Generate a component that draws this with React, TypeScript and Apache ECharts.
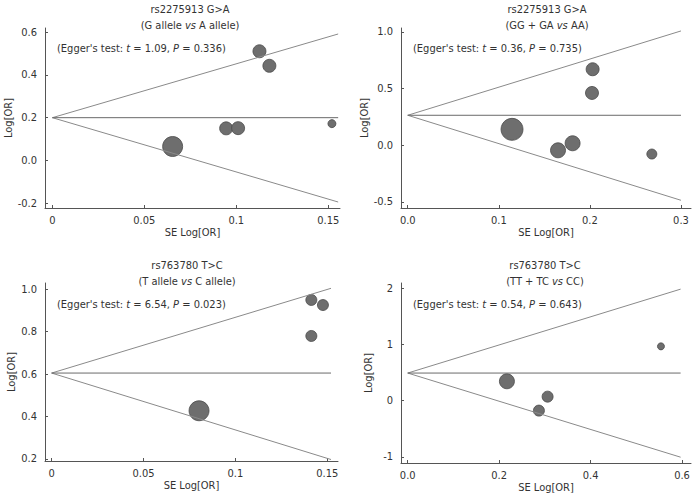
import React, { useEffect, useRef } from "react";
import * as echarts from "echarts";

// Panel titles
const titleLine1 = ["rs2275913 G>A", "rs2275913 G>A", "rs763780 T>C", "rs763780 T>C"];
const titleLine2Pre = ["(G allele ", "(GG + GA ", "(T allele ", "(TT + TC "];
const titleLine2Post = [" A allele)", " AA)", " C allele)", " CC)"];
const eggerT = ["1.09", "0.36", "6.54", "0.54"];
const eggerP = ["0.336", "0.735", "0.023", "0.643"];

// Study points: SE of log OR, log OR, marker diameter (weight)
const p1SE = [0.1126, 0.118, 0.0945, 0.101, 0.0654, 0.152];
const p1LogOR = [0.511, 0.443, 0.15, 0.151, 0.065, 0.172];
const p1Size = [13, 13, 13, 13, 20, 8];

const p2SE = [0.203, 0.2023, 0.1145, 0.165, 0.181, 0.268];
const p2LogOR = [0.671, 0.462, 0.141, -0.044, 0.018, -0.077];
const p2Size = [13, 13, 22, 15, 15, 10];

const p3SE = [0.1413, 0.1476, 0.1413, 0.0802];
const p3LogOR = [0.95, 0.926, 0.78, 0.427];
const p3Size = [11, 11, 11, 20];

const p4SE = [0.554, 0.217, 0.306, 0.287];
const p4LogOR = [0.964, 0.344, 0.071, -0.177];
const p4Size = [7, 15, 11, 11];

// Funnel: pooled log OR, SE at the funnel's end, upper and lower limits there
const pooled = [0.2, 0.265, 0.605, 0.49];
const funnelEndSE = [0.1554, 0.3, 0.152, 0.597];
const funnelUpper = [0.592, 1.009, 1.005, 1.98];
const funnelLower = [-0.195, -0.485, 0.197, -1.004];

// Axes
const xMin = [-0.004, -0.0074, -0.0036, -0.0147];
const xMax = [0.1564, 0.311, 0.1558, 0.6197];
const yMin = [-0.223, -0.553, 0.19, -1.107];
const yMax = [0.62, 1.035, 1.03, 2.089];
const xTickValues = [
  [0, 0.05, 0.1, 0.15],
  [0, 0.1, 0.2, 0.3],
  [0, 0.05, 0.1, 0.15],
  [0, 0.2, 0.4, 0.6],
];
const xTickLabels = [
  ["0", "0.05", "0.1", "0.15"],
  ["0.0", "0.1", "0.2", "0.3"],
  ["0", "0.05", "0.1", "0.15"],
  ["0.0", "0.2", "0.4", "0.6"],
];
const yTickValues = [
  [-0.2, 0, 0.2, 0.4, 0.6],
  [-0.5, 0, 0.5, 1.0],
  [0.2, 0.4, 0.6, 0.8, 1.0],
  [-1, 0, 1, 2],
];
const yTickLabels = [
  ["-0.2", "0.0", "0.2", "0.4", "0.6"],
  ["-0.5", "0.0", "0.5", "1.0"],
  ["0.2", "0.4", "0.6", "0.8", "1.0"],
  ["-1", "0", "1", "2"],
];

const FONT = "'DejaVu Sans Condensed', Tahoma, 'Liberation Sans', sans-serif";
const TEXT = "#333";

const grids = [
  { left: 45, top: 28, width: 295, height: 180 },
  { left: 401, top: 28, width: 290, height: 180 },
  { left: 45, top: 283, width: 293, height: 178 },
  { left: 401, top: 283, width: 290, height: 180 },
];
const titleCenter = [190, 547, 187, 545];
const titleY = [9, 265];
const eggerPos = [
  [57, 48],
  [413, 48],
  [57, 304],
  [413, 304],
];

export default function App() {
  const ref = useRef<HTMLDivElement>(null);
  useEffect(() => {
    if (!ref.current) return;
    const chart = echarts.init(ref.current, null, { renderer: "svg" });
    const ses = [p1SE, p2SE, p3SE, p4SE];
    const ors = [p1LogOR, p2LogOR, p3LogOR, p4LogOR];
    const sizes = [p1Size, p2Size, p3Size, p4Size];

    const xAxis: any[] = [];
    const yAxis: any[] = [];
    const series: any[] = [];
    const graphic: any[] = [];

    for (let i = 0; i < 4; i++) {
      const axisLine = { lineStyle: { color: "#555", width: 1 } };
      const axisTick = { inside: true, length: 3, lineStyle: { color: "#555" } };
      xAxis.push({
        gridIndex: i,
        type: "value",
        min: xMin[i],
        max: xMax[i],
        name: "SE Log[OR]",
        nameLocation: "middle",
        nameGap: 19,
        nameTextStyle: { fontFamily: FONT, fontSize: 11, color: TEXT },
        axisLine: { ...axisLine, onZero: false },
        axisTick: { ...axisTick, customValues: xTickValues[i] },
        axisLabel: {
          customValues: xTickValues[i],
          formatter: (v: number) => {
            const k = xTickValues[i].findIndex((t) => Math.abs(t - v) < 1e-9);
            return k >= 0 ? xTickLabels[i][k] : "";
          },
          fontFamily: FONT,
          fontSize: 11,
          color: TEXT,
          margin: 7,
        },
        splitLine: { show: false },
      });
      yAxis.push({
        gridIndex: i,
        type: "value",
        min: yMin[i],
        max: yMax[i],
        name: "Log[OR]",
        nameLocation: "middle",
        nameGap: 27,
        nameTextStyle: { fontFamily: FONT, fontSize: 11, color: TEXT },
        axisLine: { ...axisLine, onZero: false },
        axisTick: { ...axisTick, customValues: yTickValues[i] },
        axisLabel: {
          customValues: yTickValues[i],
          formatter: (v: number) => {
            const k = yTickValues[i].findIndex((t) => Math.abs(t - v) < 1e-9);
            return k >= 0 ? yTickLabels[i][k] : "";
          },
          fontFamily: FONT,
          fontSize: 11,
          color: TEXT,
          margin: 8,
        },
        splitLine: { show: false },
      });

      const lineStyle = { color: "#8a8a8a", width: 1 };
      series.push({
        type: "line",
        xAxisIndex: i,
        yAxisIndex: i,
        data: [
          [0, pooled[i]],
          [funnelEndSE[i], funnelUpper[i]],
        ],
        symbol: "none",
        lineStyle,
        silent: true,
      });
      series.push({
        type: "line",
        xAxisIndex: i,
        yAxisIndex: i,
        data: [
          [0, pooled[i]],
          [funnelEndSE[i], funnelLower[i]],
        ],
        symbol: "none",
        lineStyle,
        silent: true,
      });
      series.push({
        type: "line",
        xAxisIndex: i,
        yAxisIndex: i,
        data: [
          [0, pooled[i]],
          [funnelEndSE[i], pooled[i]],
        ],
        symbol: "none",
        lineStyle: { color: "#6a6a6a", width: 1 },
        silent: true,
      });
      series.push({
        type: "scatter",
        xAxisIndex: i,
        yAxisIndex: i,
        data: ses[i].map((s, k) => ({
          value: [s, ors[i][k]],
          symbolSize: sizes[i][k],
        })),
        itemStyle: { color: "#6e6e6e", borderColor: "#4a4a4a", borderWidth: 0.8, opacity: 1 },
      });

      const ty = titleY[i < 2 ? 0 : 1];
      graphic.push({
        type: "text",
        x: titleCenter[i],
        y: ty,
        style: {
          text: titleLine1[i],
          font: `11px ${FONT}`,
          fill: TEXT,
          align: "center",
          verticalAlign: "middle",
        },
      });
      graphic.push({
        type: "text",
        x: titleCenter[i],
        y: ty + 16,
        style: {
          text: `{n|${titleLine2Pre[i]}}{it|vs}{n|${titleLine2Post[i]}}`,
          align: "center",
          verticalAlign: "middle",
          rich: {
            n: { fontFamily: FONT, fontSize: 11, fill: TEXT, color: TEXT },
            it: { fontFamily: FONT, fontSize: 11, fontStyle: "italic", fill: TEXT, color: TEXT },
          },
        },
      });
      graphic.push({
        type: "text",
        x: eggerPos[i][0],
        y: eggerPos[i][1],
        style: {
          text: `{n|(Egger's test: }{it|t}{n| = ${eggerT[i]}, }{it|P}{n| = ${eggerP[i]})}`,
          align: "left",
          verticalAlign: "middle",
          rich: {
            n: { fontFamily: FONT, fontSize: 11, fill: TEXT, color: TEXT },
            it: { fontFamily: FONT, fontSize: 11, fontStyle: "italic", fill: TEXT, color: TEXT },
          },
        },
      });
    }

    chart.setOption({
      animation: false,
      backgroundColor: "#fff",
      grid: grids.map((g) => ({ ...g, containLabel: false })),
      xAxis,
      yAxis,
      series,
      graphic,
    });
    return () => chart.dispose();
  }, []);

  return (
    <div
      ref={ref}
      style={{ position: "absolute", left: 0, top: 0, width: 696, height: 503 }}
    />
  );
}
